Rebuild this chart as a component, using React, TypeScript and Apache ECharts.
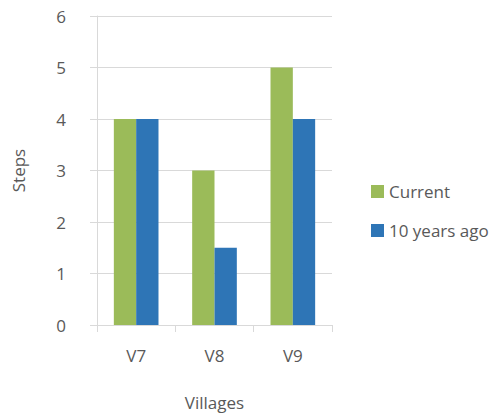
import React, { useEffect, useRef } from "react";
import * as echarts from "echarts";

const categories = ["V7", "V8", "V9"];
const currentValues = [4, 3, 5];
const tenYearsAgoValues = [4, 1.5, 4];
const seriesNames = ["Current", "10 years ago"];

export default function App() {
  const ref = useRef<HTMLDivElement>(null);
  useEffect(() => {
    if (!ref.current) return;
    const chart = echarts.init(ref.current, undefined, { renderer: "svg" });
    const font = "'Open Sans', sans-serif";
    const lineColor = "#d9d9d9";
    const textColor = "#595959";
    chart.setOption({
      animation: false,
      textStyle: { fontFamily: font },
      grid: { left: 97, right: 157, top: 16, bottom: 88, outerBoundsMode: "none", containLabel: false },
      legend: {
        orient: "vertical",
        left: 366,
        top: 178,
        itemWidth: 13,
        itemHeight: 13,
        itemGap: 22,
        icon: "rect",
        textStyle: { fontFamily: font, fontSize: 17, color: textColor },
        data: seriesNames,
      },
      xAxis: {
        type: "category",
        data: categories,
        name: "Villages",
        nameLocation: "middle",
        nameGap: 69,
        nameTextStyle: { fontFamily: font, fontSize: 17, color: textColor },
        axisLine: { lineStyle: { color: lineColor, width: 1 } },
        axisTick: { show: true, length: 7, lineStyle: { color: lineColor } },
        axisLabel: { fontFamily: font, fontSize: 17, color: textColor, margin: 22 },
      },
      yAxis: {
        type: "value",
        min: 0,
        max: 6,
        interval: 1,
        name: "Steps",
        nameLocation: "middle",
        nameGap: 70,
        nameRotate: 90,
        nameTextStyle: { fontFamily: font, fontSize: 17, color: textColor },
        axisLine: { show: true, lineStyle: { color: lineColor, width: 1 } },
        axisTick: { show: true, length: 7, lineStyle: { color: lineColor } },
        axisLabel: { fontFamily: font, fontSize: 17, color: textColor, margin: 31 },
        splitLine: { lineStyle: { color: lineColor, width: 1 } },
      },
      series: [
        {
          name: seriesNames[0],
          type: "bar",
          data: currentValues,
          itemStyle: { color: "#9bbb59" },
          barGap: "0%",
          barCategoryGap: "43%",
        },
        {
          name: seriesNames[1],
          type: "bar",
          data: tenYearsAgoValues,
          itemStyle: { color: "#2e75b6" },
          barGap: "0%",
          barCategoryGap: "43%",
        },
      ],
    });
    return () => chart.dispose();
  }, []);
  return <div ref={ref} style={{ width: 489, height: 413, position: "absolute", left: 0, top: 0 }} />;
}
